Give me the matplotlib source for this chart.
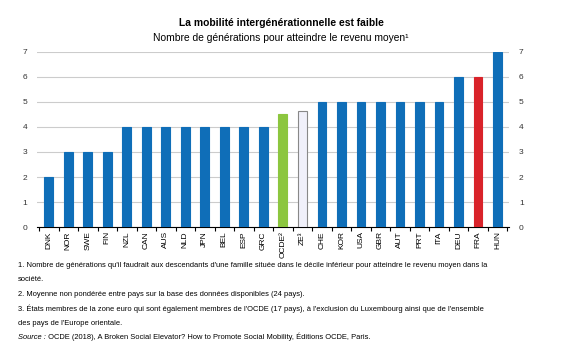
import matplotlib
matplotlib.use("Agg")
import matplotlib.pyplot as plt
from matplotlib import font_manager
import numpy as np

plt.rcParams['font.family'] = ['Liberation Sans', 'DejaVu Sans']
names = {f.name for f in font_manager.fontManager.ttflist}
narrow = 'Liberation Sans Narrow' if 'Liberation Sans Narrow' in names else None

categories = ["DNK", "NOR", "SWE", "FIN", "NZL", "CAN", "AUS", "NLD", "JPN", "BEL", "ESP", "GRC",
              "OCDE²", "ZE³", "CHE", "KOR", "USA", "GBR", "AUT", "PRT", "ITA", "DEU", "FRA", "HUN"]
values = [2, 3, 3, 3, 4, 4, 4, 4, 4, 4, 4, 4, 4.5, 4.65, 5, 5, 5, 5, 5, 5, 5, 6, 6, 7]
colors = ["#0f6eb8"] * len(categories)
colors[12] = "#8cc63f"
colors[13] = "#f0f0fa"
colors[22] = "#d9232a"
edges = list(colors)
edges[13] = "#888888"
yticks = [0, 1, 2, 3, 4, 5, 6, 7]

fig = plt.figure(figsize=(5.62, 3.44), dpi=100)
ax = fig.add_axes([0.066, 0.34, 0.84, 0.509])
x = np.arange(len(categories))
ax.bar(x, values, width=0.45, color=colors, edgecolor=edges, linewidth=0.8, zorder=3)
ax.set_xlim(-0.6, len(categories) - 0.4)
ax.set_ylim(0, 7)
ax.set_yticks(yticks)
ax.grid(axis='y', color='#cccccc', linewidth=0.8, zorder=0)
for s in ['top', 'right', 'left']:
    ax.spines[s].set_visible(False)
ax.spines['bottom'].set_color('black')
ax.spines['bottom'].set_linewidth(0.8)
ax.tick_params(axis='y', length=0, labelsize=6, colors='#333333', labelright=True, pad=7)
ax.set_xticks(x)
ax.set_xticklabels(categories, rotation=90, fontsize=6)
ax.tick_params(axis='x', length=0, pad=3)
ax.set_xticks(np.arange(-0.5, len(categories), 1), minor=True)
ax.tick_params(axis='x', which='minor', length=3, width=0.8, direction='out')

fig.text(0.5, 0.925, "La mobilité intergénérationnelle est faible", ha='center', fontsize=7.4, fontweight='bold')
fig.text(0.5, 0.88, "Nombre de générations pour atteindre le revenu moyen¹", ha='center', fontsize=7.4)

if narrow:
    nfam = [narrow, 'DejaVu Sans']
    nsize = 6.6
else:
    nfam = ['Liberation Sans', 'DejaVu Sans']
    nsize = 5.45

notes = [
    (0.218, "1. Nombre de générations qu'il faudrait aux descendants d'une famille située dans le décile inférieur pour atteindre le revenu moyen dans la"),
    (0.178, "société."),
    (0.135, "2. Moyenne non pondérée entre pays sur la base des données disponibles (24 pays)."),
    (0.091, "3. États membres de la zone euro qui sont également membres de l'OCDE (17 pays), à l'exclusion du Luxembourg ainsi que de l'ensemble"),
    (0.050, "des pays de l'Europe orientale."),
]
for yy, t in notes:
    fig.text(0.032, yy, t, fontsize=nsize, family=nfam, va='bottom')
fig.text(0.032, 0.008, "Source :", fontsize=nsize, family=nfam, style='italic', va='bottom')
fig.text(0.082, 0.008, " OCDE (2018), A Broken Social Elevator? How to Promote Social Mobility, Éditions OCDE, Paris.",
         fontsize=nsize, family=nfam, va='bottom')

fig.savefig("out.png", dpi=100)
